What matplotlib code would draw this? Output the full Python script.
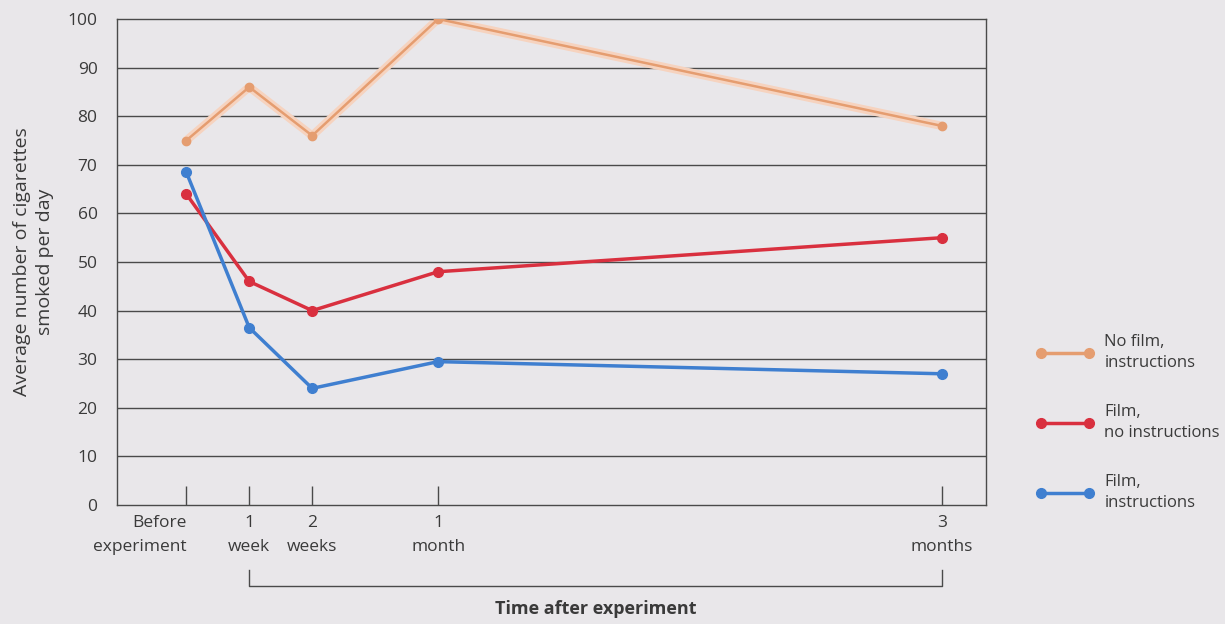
import matplotlib
matplotlib.use("Agg")
import matplotlib.pyplot as plt
from matplotlib.lines import Line2D
from matplotlib.transforms import blended_transform_factory

plt.rcParams['font.family'] = ['Open Sans', 'DejaVu Sans']

# time points (weeks after experiment) and their labels
weeks = [0, 1, 2, 4, 12]
tick_labels = ["Before\nexperiment", "1\nweek", "2\nweeks", "1\nmonth", "3\nmonths"]

no_film_instr = [75, 86, 76, 100, 78]
film_no_instr = [64, 46, 40, 48, 55]
film_instr = [68.5, 36.5, 24, 29.5, 27]

series_names = ["No film,\ninstructions", "Film,\nno instructions", "Film,\ninstructions"]
series_colors = ["#e59d70", "#d9303f", "#3f7fd0"]

bg = "#e9e7ea"
ink = "#3a3a3a"

fig = plt.figure(figsize=(12.25, 6.24), dpi=100, facecolor=bg)
ax = fig.add_axes([117/1225, 1-505/624, (986-117)/1225, (505-19)/624])
ax.set_facecolor(bg)

ax.set_ylim(0, 100)
ax.set_xlim(-1.1, 12.7)
ax.set_yticks(range(0, 101, 10))
for y in range(10, 100, 10):
    ax.axhline(y, color="#4a4a4a", lw=1, zorder=1)

for sp in ax.spines.values():
    sp.set_color("#4a4a4a")
    sp.set_linewidth(1)

ax.tick_params(axis="y", length=0, labelsize=12.5, labelcolor=ink, pad=14)
ax.tick_params(axis="x", direction="in", length=14, width=1, color="#4a4a4a",
               labelsize=12.5, labelcolor=ink, pad=7)
ax.set_xticks(weeks)
ax.set_xticklabels(tick_labels, linespacing=1.65)
first = ax.get_xticklabels()[0]
first.set_horizontalalignment("right")
first.set_multialignment("right")

# faint halo under the orange line
ax.plot(weeks, no_film_instr, color="#f6d3bf", lw=6, zorder=2, solid_capstyle="round")
for vals, c in zip([no_film_instr, film_no_instr, film_instr], series_colors):
    lw = 1.8 if c == series_colors[0] else 2.5
    ms = 6 if c == series_colors[0] else 7
    ax.plot(weeks, vals, color=c, lw=lw, marker="o", ms=ms, zorder=3)

ax.set_ylabel("Average number of cigarettes\nsmoked per day", fontsize=14,
              color=ink, labelpad=10, linespacing=1.3)

# bracket for "time after experiment"
tr = blended_transform_factory(ax.transData, ax.transAxes)
ax.plot([weeks[1], weeks[1], weeks[-1], weeks[-1]], [-0.134, -0.167, -0.167, -0.134],
        transform=tr, color="#4a4a4a", lw=1, clip_on=False)
ax.text((weeks[1] + weeks[-1]) / 2, -0.215, "Time after experiment", transform=tr,
        ha="center", va="center", fontsize=13, fontweight="bold", color=ink)

handles = [Line2D([], [], color=c, lw=2.5, marker="o", ms=7) for c in series_colors]
leg = fig.legend(handles, series_names, loc="upper left", bbox_to_anchor=(1036/1225, 1-334/624),
                 frameon=False, numpoints=2, handlelength=3.5, handletextpad=0.6,
                 labelspacing=2.0, fontsize=12, borderaxespad=0, borderpad=0)
for t in leg.get_texts():
    t.set_color(ink)
    t.set_linespacing(1.4)

fig.savefig("out.png", dpi=100, facecolor=bg)
